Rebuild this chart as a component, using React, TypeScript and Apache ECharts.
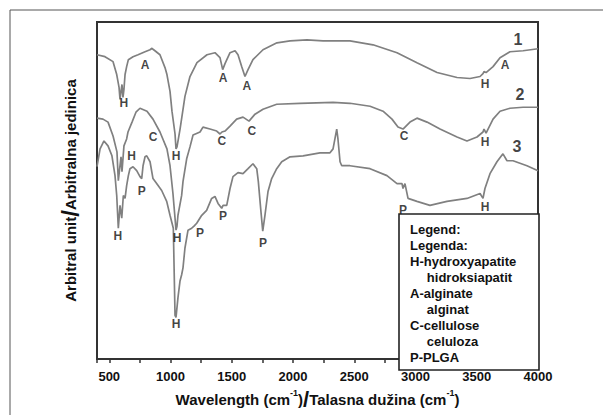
import React, { useEffect, useRef } from "react";
import * as echarts from "echarts";

// Curve 1 (hydroxyapatite/alginate)
const curve1Wavenumber = [400, 465, 531, 561, 580, 588, 596, 604, 612, 620, 629, 642, 656, 694, 735, 792, 833, 849, 857, 873, 914, 955, 971, 996, 1012, 1037, 1045, 1053, 1078, 1118, 1159, 1216, 1298, 1363, 1404, 1426, 1445, 1486, 1527, 1551, 1581, 1608, 1633, 1673, 1755, 1869, 1976, 2114, 2245, 2465, 2653, 2849, 3012, 3176, 3339, 3445, 3527, 3551, 3559, 3576, 3633, 3690, 3771, 3878, 4000];
const curve1Signal = [307, 305, 300, 287, 274, 262, 270, 277, 264, 272, 287, 295, 302, 305, 307, 310, 312, 313.5, 312.5, 311, 307, 294, 287, 270, 250, 227, 212, 214, 232, 265, 285, 299, 307, 309, 304, 292, 298, 309, 311, 307, 295, 285, 292, 302, 312, 319, 321, 322, 321, 321, 317, 309, 299, 289, 284, 283, 285, 288, 290, 289, 295, 304, 310, 311, 313];

// Curve 2 (hydroxyapatite/cellulose)
const curve2Wavenumber = [400, 449, 490, 531, 563, 574, 596, 604, 620, 642, 653, 686, 718, 751, 808, 857, 914, 971, 996, 1020, 1037, 1045, 1053, 1061, 1091, 1102, 1132, 1159, 1184, 1241, 1265, 1322, 1377, 1404, 1420, 1445, 1486, 1540, 1592, 1641, 1690, 1755, 1867, 2057, 2327, 2465, 2629, 2735, 2808, 2857, 2898, 2955, 3012, 3094, 3200, 3339, 3420, 3502, 3551, 3559, 3576, 3633, 3690, 3771, 3878, 4000];
const curve2Signal = [243, 242, 239, 225, 209, 180, 204, 189, 215, 222, 229, 239, 249, 253, 250, 242, 229, 212, 195, 167, 142, 130, 134, 145, 165, 179, 202, 214, 226, 229, 234, 232, 230, 227, 229, 230, 235, 242, 244, 240, 247, 252, 257, 258, 259, 258, 255, 250, 242, 234, 232, 239, 243, 239, 232, 224, 220, 224, 229, 232, 228, 242, 250, 253, 254, 254];

// Curve 3 (hydroxyapatite/PLGA)
const curve3Wavenumber = [400, 425, 457, 490, 522, 547, 561, 574, 588, 602, 615, 629, 642, 656, 669, 694, 724, 751, 765, 776, 792, 806, 833, 857, 887, 928, 969, 996, 1023, 1037, 1045, 1061, 1078, 1091, 1102, 1118, 1143, 1173, 1192, 1214, 1255, 1295, 1336, 1363, 1388, 1418, 1429, 1459, 1486, 1510, 1551, 1592, 1633, 1673, 1704, 1717, 1736, 1753, 1771, 1796, 1826, 1867, 1908, 1976, 2082, 2220, 2302, 2327, 2357, 2367, 2384, 2398, 2465, 2629, 2767, 2849, 2890, 2898, 2914, 2939, 3012, 3118, 3257, 3420, 3527, 3551, 3567, 3608, 3665, 3714, 3747, 3796, 3910, 4000];
const curve3Signal = [194, 212, 220, 215, 205, 185, 165, 132, 155, 142, 165, 162, 175, 185, 192, 194, 190, 184, 182, 195, 204, 205, 199, 182, 177, 170, 159, 145, 132, 44, 42, 62, 79, 85, 92, 112, 130, 132, 134, 137, 145, 150, 162, 164, 157, 152, 155, 155, 172, 184, 188, 187, 192, 197, 192, 179, 152, 129, 145, 169, 182, 192, 199, 204, 205, 208, 208, 212, 232, 222, 199, 195, 195, 192, 185, 177, 177, 172, 177, 162, 159, 155, 159, 162, 167, 162, 172, 187, 199, 207, 200, 200, 195, 190];

// Peak annotations: wavenumber, signal, text
const peakLabelX = [620, 792, 1045, 1429, 1624, 3567, 3731, 683, 857, 1053, 1418, 1663, 2906, 3567, 571, 765, 1045, 1241, 1429, 1755, 2898, 3567];
const peakLabelY = [258, 297, 205, 284, 275, 277, 297, 205, 224, 122, 220, 230, 225, 219, 124, 170, 35, 127, 144, 117, 150, 153];
const peakLabelText = ["H", "A", "H", "A", "A", "H", "A", "H", "C", "H", "C", "C", "C", "H", "H", "P", "H", "P", "P", "P", "P", "H"];

// Curve numbers
const curveNumberX = [3837, 3853, 3829];
const curveNumberY = [322, 267, 214];
const curveNumberText = ["1", "2", "3"];

const legendLines = [
  "Legend:",
  "Legenda:",
  "H-hydroxyapatite",
  "   hidroksiapatit",
  "A-alginate",
  "   alginat",
  "C-cellulose",
  "   celuloza",
  "P-PLGA",
];

const FONT = '"Liberation Sans", Arial, sans-serif';

function zip(xs: number[], ys: number[]) {
  return xs.map((x, i) => [x, ys[i]]);
}

export default function App() {
  const ref = useRef<HTMLDivElement>(null);
  useEffect(() => {
    if (!ref.current) return;
    const chart = echarts.init(ref.current, undefined, { renderer: "svg" });
    const lineStyle = { color: "#808080", width: 1.7 };
    const mkLine = (xs: number[], ys: number[]) => ({
      type: "line",
      data: zip(xs, ys),
      showSymbol: false,
      symbol: "none",
      lineStyle,
      silent: true,
      z: 2,
    });
    const legendGraphics: any[] = legendLines.map((t, i) => ({
      type: "text",
      x: t.startsWith(" ") ? 416 : 410,
      y: 229 + i * 16,
      z: 101,
      style: {
        text: t,
        font: `bold 13px ${FONT}`,
        fill: "#111",
        verticalAlign: "middle",
      },
    }));
    chart.setOption({
      animation: false,
      backgroundColor: "#fff",
      grid: {
        left: 97,
        top: 22,
        width: 441,
        height: 340,
        show: true,
        borderColor: "#333",
        borderWidth: 2,
        backgroundColor: "transparent",
      },
      xAxis: {
        type: "value",
        min: 400,
        max: 4000,
        minInterval: 250,
        maxInterval: 250,
        axisLine: { show: false },
        axisTick: { show: true, inside: false, length: 4, lineStyle: { color: "#333", width: 1.5 } },
        splitLine: { show: false },
        axisLabel: {
          margin: 11,
          fontFamily: FONT,
          fontWeight: "bold",
          fontSize: 13,
          color: "#111",
          formatter: (v: number) => (v % 500 === 0 ? String(v) : ""),
        },
        name: "{a|Wavelength (cm}{s|-1}{a|)}{sl|/}{a|Talasna dužina (cm}{s|-1}{a|)}",
        nameLocation: "middle",
        nameGap: 29,
        nameTextStyle: {
          rich: {
            a: { fontFamily: FONT, fontWeight: "bold", fontSize: 15, color: "#111" },
            s: { fontFamily: FONT, fontWeight: "bold", fontSize: 9, color: "#111", verticalAlign: "top" },
            sl: { fontFamily: FONT, fontWeight: "bold", fontSize: 22, color: "#111" },
          },
        },
      },
      yAxis: {
        type: "value",
        min: 0,
        max: 340,
        axisLine: { show: false },
        axisTick: { show: false },
        axisLabel: { show: false },
        splitLine: { show: false },
        name: "{a|Arbitral unit}{sl|/}{a|Arbitralna jedinica}",
        nameLocation: "middle",
        nameGap: 15,
        nameRotate: 90,
        nameTextStyle: {
          rich: {
            a: { fontFamily: FONT, fontWeight: "bold", fontSize: 15, color: "#111" },
            sl: { fontFamily: FONT, fontWeight: "bold", fontSize: 24, color: "#111" },
          },
        },
      },
      series: [
        mkLine(curve1Wavenumber, curve1Signal),
        mkLine(curve2Wavenumber, curve2Signal),
        mkLine(curve3Wavenumber, curve3Signal),
        {
          type: "scatter",
          symbolSize: 0,
          silent: true,
          z: 5,
          data: peakLabelX.map((x, i) => ({ value: [x, peakLabelY[i]], name: peakLabelText[i] })),
          label: {
            show: true,
            position: "inside",
            formatter: "{b}",
            fontFamily: FONT,
            fontWeight: "bold",
            fontSize: 12,
            color: "#111",
          },
        },
        {
          type: "scatter",
          symbolSize: 0,
          silent: true,
          z: 5,
          data: curveNumberX.map((x, i) => ({ value: [x, curveNumberY[i]], name: curveNumberText[i] })),
          label: {
            show: true,
            position: "inside",
            formatter: "{b}",
            fontFamily: FONT,
            fontWeight: "bold",
            fontSize: 16,
            color: "#111",
          },
        },
      ],
      graphic: [
        {
          type: "rect",
          z: 100,
          shape: { x: 10, y: 10, width: 620, height: 440 },
          style: { fill: "none", stroke: "#555", lineWidth: 1 },
          silent: true,
        },
        {
          type: "rect",
          z: 100,
          shape: { x: 399, y: 214, width: 140, height: 156 },
          style: { fill: "#fff", stroke: "#222", lineWidth: 1.6 },
          silent: true,
        },
        ...legendGraphics,
      ],
    });
    return () => chart.dispose();
  }, []);
  return (
    <div
      ref={ref}
      style={{ position: "fixed", left: 0, top: 0, width: 603, height: 415, background: "#fff" }}
    />
  );
}
